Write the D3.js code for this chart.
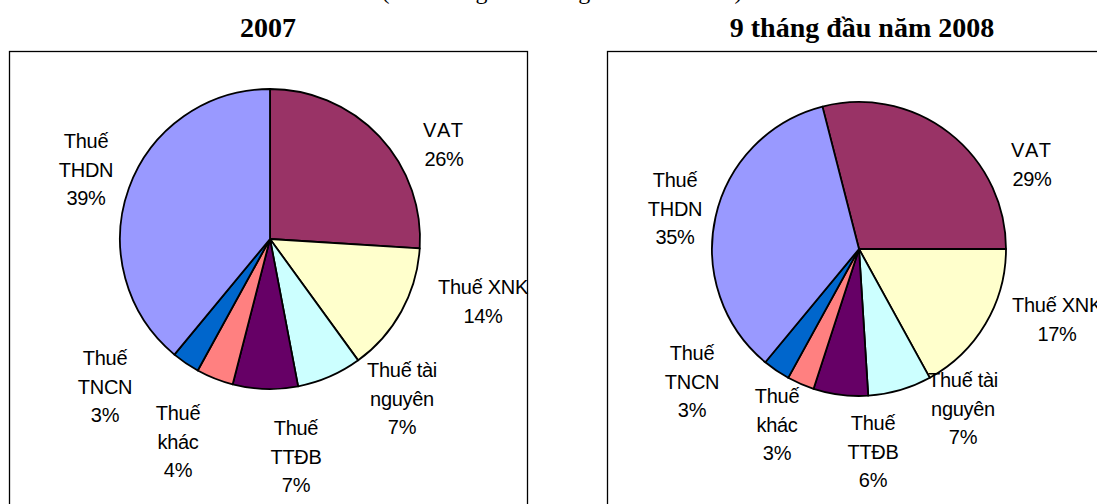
<!DOCTYPE html>
<html>
<head>
<meta charset="utf-8">
<script src="https://cdn.jsdelivr.net/npm/d3@7"></script>
<style>
  body { margin: 0; background: #fff; }
  svg { display: block; }
</style>
</head>
<body>
<div id="chart"></div>
<script>
// categories, clockwise from the first slice
const categories = ['VAT', 'Thuế XNK', 'Thuế tài nguyên', 'Thuế TTĐB', 'Thuế khác', 'Thuế TNCN', 'Thuế THDN'];
const values2007 = [26, 14, 7, 7, 4, 3, 39];
const values2008 = [29, 17, 7, 6, 3, 3, 35];
const titles = ['2007', '9 tháng đầu năm 2008'];
const colors = ['#993366', '#ffffcc', '#ccffff', '#660066', '#ff8080', '#0066cc', '#9999ff'];

// how each label is broken into lines
const labelLines = [['VAT'], ['Thuế XNK'], ['Thuế tài', 'nguyên'], ['Thuế', 'TTĐB'], ['Thuế', 'khác'], ['Thuế', 'TNCN'], ['Thuế', 'THDN']];

const width = 1097, height = 504;
const svg = d3.select('#chart').append('svg')
  .attr('width', width)
  .attr('height', height);

// cropped subtitle at the very top
svg.append('text')
  .attr('x', 562).attr('y', -1)
  .attr('text-anchor', 'middle')
  .style('font-family', '"Liberation Serif", "Times New Roman", serif')
  .style('font-size', '24px')
  .text('(Cơ cấu nguồn thu ngân sách từ thuế)');

const panels = [
  { values: values2007, title: titles[0], tx: 268, box: [9.5, 51.5, 518, 520], cx: 270, cy: 239, r: 150, rot: 0,
    // label anchor (centre x, first baseline) relative to pie centre
    labels: [[174, -102], [213, 55], [132, 138], [26, 196], [-92, 181], [-165, 126], [-184, -91]] },
  { values: values2008, title: titles[1], tx: 862, box: [607.5, 51.5, 600, 520], cx: 859, cy: 249, r: 147, rot: -14.4,
    labels: [[173, -92], [198, 63], [104, 138], [14, 181], [-82, 154], [-167, 111], [-184, -62]] }
];

const lineGap = 28.7;

panels.forEach(p => {
  svg.append('text')
    .attr('x', p.tx).attr('y', 37)
    .attr('text-anchor', 'middle')
    .style('font-family', '"Liberation Serif", "Times New Roman", serif')
    .style('font-size', '28px')
    .style('font-weight', 'bold')
    .text(p.title);

  svg.append('rect')
    .attr('x', p.box[0]).attr('y', p.box[1])
    .attr('width', p.box[2]).attr('height', p.box[3])
    .attr('fill', 'none')
    .attr('stroke', '#000')
    .attr('stroke-width', 1.3);

  const start = p.rot * Math.PI / 180;
  const pie = d3.pie().sort(null)
    .startAngle(start)
    .endAngle(start + 2 * Math.PI);
  const arc = d3.arc().innerRadius(0).outerRadius(p.r);

  const g = svg.append('g')
    .attr('transform', `translate(${p.cx}, ${p.cy})`);

  g.selectAll('path')
    .data(pie(p.values))
    .enter()
    .append('path')
    .attr('d', arc)
    .attr('fill', (d, i) => colors[i])
    .attr('stroke', '#000')
    .attr('stroke-width', 1.8)
    .attr('stroke-linejoin', 'round');

  // data labels: name lines + percentage
  p.values.forEach((v, i) => {
    const lines = labelLines[i].concat([v + '%']);
    const t = g.append('text')
      .attr('text-anchor', 'middle')
      .style('font-family', '"Liberation Sans", Arial, sans-serif')
      .style('font-size', '20px')
      .attr('fill', '#000');
    lines.forEach((s, k) => {
      t.append('tspan')
        .attr('x', p.labels[i][0])
        .attr('y', p.labels[i][1] + k * lineGap)
        .style('letter-spacing', s === 'VAT' ? '2px' : '-0.3px')
        .text(s);
    });
  });
});
</script>
</body>
</html>
